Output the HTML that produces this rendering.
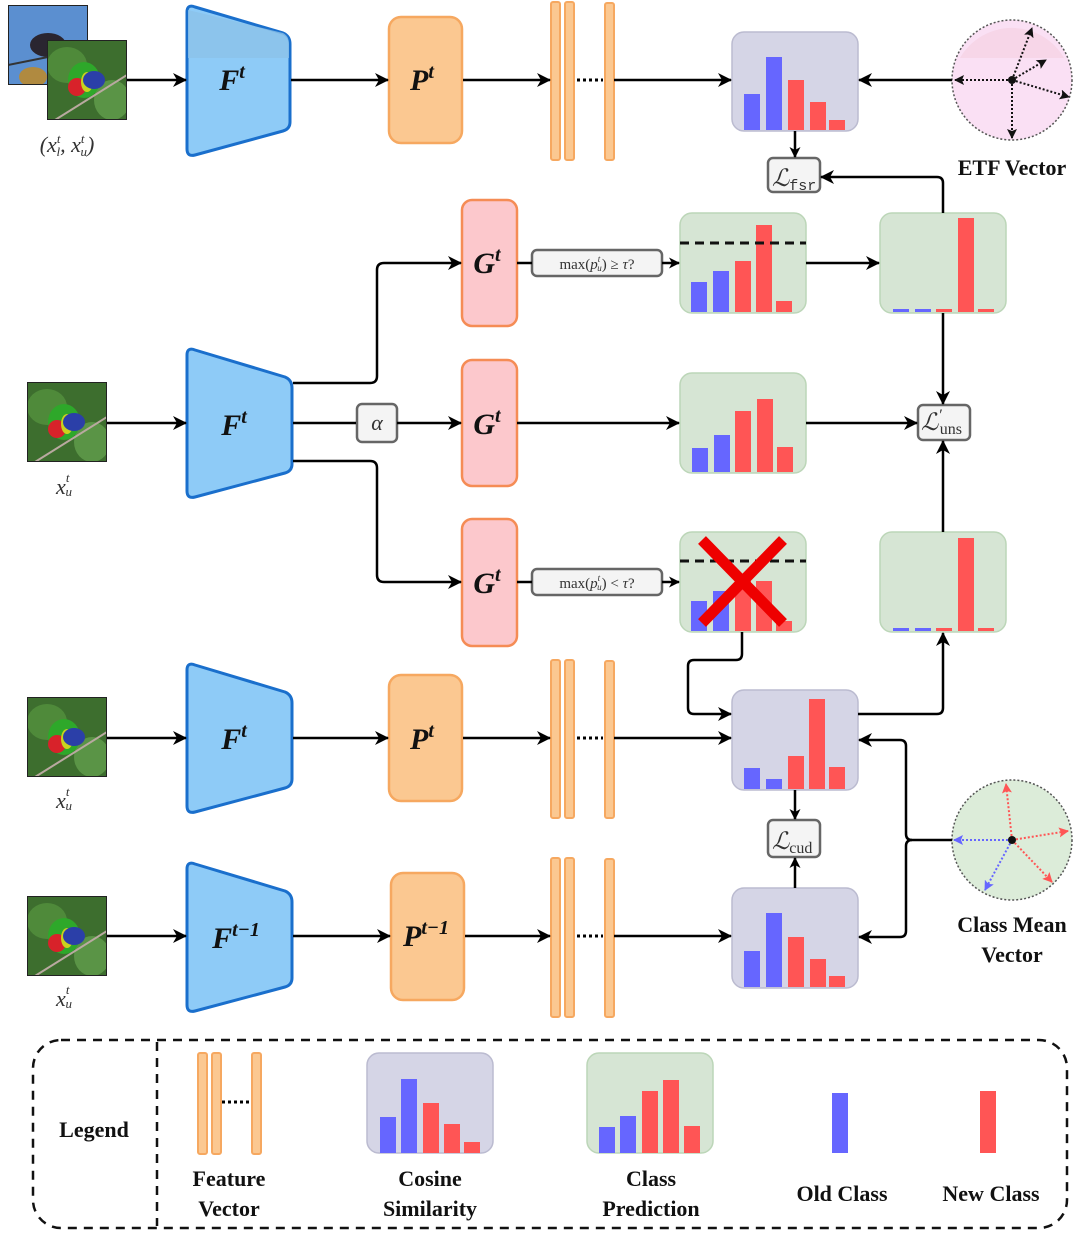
<!DOCTYPE html>
<html><head><meta charset="utf-8"><style>
html,body{margin:0;padding:0;background:#fff}
svg{display:block}
.m{font-family:"Liberation Serif",serif;font-style:italic;font-weight:bold;fill:#111}
.b{font-family:"Liberation Serif",serif;font-weight:bold;fill:#111}
.s{font-family:"Liberation Serif",serif;fill:#333}
</style></head><body>
<svg width="1080" height="1234" viewBox="0 0 1080 1234" xmlns="http://www.w3.org/2000/svg">
<defs>
<marker id="a" markerWidth="14" markerHeight="14" refX="13" refY="7" orient="auto" markerUnits="userSpaceOnUse" viewBox="0 0 14 14">
<path d="M0,0 L14,7 L0,14 L4,7 Z" fill="#000"/></marker>
<marker id="as" markerWidth="11" markerHeight="11" refX="10" refY="5.5" orient="auto" markerUnits="userSpaceOnUse" viewBox="0 0 11 11">
<path d="M0,0 L11,5.5 L0,11 L3,5.5 Z" fill="#000"/></marker>
<marker id="ar" markerWidth="10" markerHeight="10" refX="9" refY="5" orient="auto" markerUnits="userSpaceOnUse" viewBox="0 0 10 10">
<path d="M0,0 L10,5 L0,10 L2,5 Z" fill="#f55"/></marker>
<marker id="ab" markerWidth="10" markerHeight="10" refX="9" refY="5" orient="auto" markerUnits="userSpaceOnUse" viewBox="0 0 10 10">
<path d="M0,0 L10,5 L0,10 L2,5 Z" fill="#66f"/></marker>
<marker id="ak" markerWidth="10" markerHeight="10" refX="9" refY="5" orient="auto" markerUnits="userSpaceOnUse" viewBox="0 0 10 10">
<path d="M0,0 L10,5 L0,10 L2,5 Z" fill="#111"/></marker>
<symbol id="bird" viewBox="0 0 80 80">
<rect width="80" height="80" fill="#3d6e2e"/>
<ellipse cx="20" cy="25" rx="20" ry="18" fill="#4f8a3a"/>
<ellipse cx="65" cy="60" rx="18" ry="20" fill="#5a9446"/>
<line x1="8" y1="80" x2="80" y2="35" stroke="#b9a9a0" stroke-width="2"/>
<ellipse cx="37" cy="40" rx="16" ry="18" fill="#2ea82a"/>
<ellipse cx="30" cy="47" rx="9" ry="9" fill="#d8222a"/>
<ellipse cx="40" cy="42" rx="6" ry="10" fill="#c9d21e"/>
<ellipse cx="47" cy="40" rx="11" ry="9" fill="#2b3fa8"/>
<rect width="80" height="80" fill="none" stroke="#222" stroke-width="2"/>
</symbol>
<symbol id="bird2" viewBox="0 0 80 80">
<rect width="80" height="80" fill="#5b8fd0"/>
<ellipse cx="40" cy="40" rx="18" ry="12" fill="#2a2530"/>
<ellipse cx="25" cy="72" rx="14" ry="10" fill="#b08a40"/>
<line x1="0" y1="60" x2="50" y2="50" stroke="#333" stroke-width="2"/>
<rect width="80" height="80" fill="none" stroke="#222" stroke-width="2"/>
</symbol>
</defs>

<use href="#bird2" x="8" y="5" width="80" height="80"/>
<use href="#bird" x="47" y="40" width="80" height="80"/>
<text x="67" y="152" class="s" font-size="22" font-style="italic" text-anchor="middle">(x<tspan font-size="13" dy="-9">t</tspan><tspan font-size="13" dy="13" dx="-4">l</tspan><tspan dy="-4">, x</tspan><tspan font-size="13" dy="-9">t</tspan><tspan font-size="13" dy="13" dx="-4">u</tspan><tspan dy="-4">)</tspan></text>
<use href="#bird" x="27" y="382" width="80" height="80"/>
<use href="#bird" x="27" y="697" width="80" height="80"/>
<use href="#bird" x="27" y="896" width="80" height="80"/>
<g class="s" font-size="22" font-style="italic" text-anchor="middle">
<text x="64" y="494">x<tspan font-size="13" dy="-12">t</tspan><tspan font-size="13" dy="14" dx="-4">u</tspan></text>
<text x="64" y="808">x<tspan font-size="13" dy="-12">t</tspan><tspan font-size="13" dy="14" dx="-4">u</tspan></text>
<text x="64" y="1006">x<tspan font-size="13" dy="-12">t</tspan><tspan font-size="13" dy="14" dx="-4">u</tspan></text>
</g>

<g fill="#8ecbf7" stroke="#1a6fcc" stroke-width="3" stroke-linejoin="round">
<path d="M187,12 Q187,4 195,7 L283,33 Q290,36 290,44 L290,122 Q290,129 283,131 L195,155 Q187,157 187,149 Z"/>
<path d="M187,355 Q187,347 195,350 L285,377 Q292,380 292,388 L292,464 Q292,471 285,473 L195,497 Q187,499 187,491 Z"/>
<path d="M187,670 Q187,662 195,665 L285,692 Q292,695 292,703 L292,779 Q292,786 285,788 L195,812 Q187,814 187,806 Z"/>
<path d="M187,869 Q187,861 195,864 L285,891 Q292,894 292,902 L292,978 Q292,985 285,987 L195,1011 Q187,1013 187,1005 Z"/>
</g>
<path d="M188,10 L283,33 Q289,36 289,44 L289,58 L188,58 Z" fill="#8cc2e8" opacity="0.8"/>
<g class="m" font-size="30" text-anchor="middle">
<text x="232" y="90">F<tspan font-size="20" dy="-12">t</tspan></text>
<text x="234" y="435">F<tspan font-size="20" dy="-12">t</tspan></text>
<text x="234" y="749">F<tspan font-size="20" dy="-12">t</tspan></text>
<text x="236" y="948">F<tspan font-size="20" dy="-12">t−1</tspan></text>
</g>

<g fill="#fbc891" stroke="#f6a860" stroke-width="2.5">
<rect x="389" y="17" width="73" height="126" rx="12"/>
<rect x="389" y="675" width="73" height="126" rx="12"/>
<rect x="391" y="873" width="73" height="127" rx="12"/>
</g>
<g class="m" font-size="30" text-anchor="middle">
<text x="422" y="90">P<tspan font-size="20" dy="-12">t</tspan></text>
<text x="422" y="749">P<tspan font-size="20" dy="-12">t</tspan></text>
<text x="426" y="946">P<tspan font-size="20" dy="-12">t−1</tspan></text>
</g>

<g fill="#fcc8cc" stroke="#f58c55" stroke-width="2.5">
<rect x="462" y="200" width="55" height="126" rx="10"/>
<rect x="462" y="360" width="55" height="126" rx="10"/>
<rect x="462" y="519" width="55" height="127" rx="10"/>
</g>
<g class="m" font-size="30" text-anchor="middle">
<text x="487" y="273">G<tspan font-size="20" dy="-12">t</tspan></text>
<text x="487" y="434">G<tspan font-size="20" dy="-12">t</tspan></text>
<text x="487" y="593">G<tspan font-size="20" dy="-12">t</tspan></text>
</g>

<g fill="#fbc891" stroke="#f6a860" stroke-width="2">
<rect x="551" y="2" width="9" height="158" rx="2"/><rect x="565" y="2" width="9" height="158" rx="2"/><rect x="605" y="3" width="9" height="157" rx="2"/>
<rect x="551" y="660" width="9" height="158" rx="2"/><rect x="565" y="660" width="9" height="158" rx="2"/><rect x="605" y="661" width="9" height="157" rx="2"/>
<rect x="551" y="858" width="9" height="159" rx="2"/><rect x="565" y="858" width="9" height="159" rx="2"/><rect x="605" y="859" width="9" height="158" rx="2"/>
<rect x="198" y="1053" width="9" height="101" rx="2"/><rect x="212" y="1053" width="9" height="101" rx="2"/><rect x="252" y="1053" width="9" height="101" rx="2"/>
</g>
<g stroke="#000" stroke-width="3" stroke-dasharray="3,3">
<line x1="577" y1="80" x2="603" y2="80"/><line x1="577" y1="738" x2="603" y2="738"/><line x1="577" y1="936" x2="603" y2="936"/><line x1="222" y1="1102" x2="250" y2="1102"/>
</g>

<g stroke-width="1.5">
<rect x="732" y="32" width="126" height="99" rx="12" fill="#d5d5e6" stroke="#bbbbd0"/>
<rect x="732" y="690" width="126" height="100" rx="12" fill="#d5d5e6" stroke="#bbbbd0"/>
<rect x="732" y="888" width="126" height="100" rx="12" fill="#d5d5e6" stroke="#bbbbd0"/>
<rect x="367" y="1053" width="126" height="100" rx="12" fill="#d5d5e6" stroke="#bbbbd0"/>
<rect x="680" y="213" width="126" height="100" rx="12" fill="#d6e5d4" stroke="#bcd6b8"/>
<rect x="880" y="213" width="126" height="100" rx="12" fill="#d6e5d4" stroke="#bcd6b8"/>
<rect x="680" y="373" width="126" height="100" rx="12" fill="#d6e5d4" stroke="#bcd6b8"/>
<rect x="680" y="532" width="126" height="100" rx="12" fill="#d6e5d4" stroke="#bcd6b8"/>
<rect x="880" y="532" width="126" height="100" rx="12" fill="#d6e5d4" stroke="#bcd6b8"/>
<rect x="587" y="1053" width="126" height="100" rx="12" fill="#d6e5d4" stroke="#bcd6b8"/>
</g>
<g>
<rect x="744" y="94" width="16" height="36" fill="#66f"/><rect x="766" y="57" width="16" height="73" fill="#66f"/><rect x="788" y="80" width="16" height="50" fill="#f55"/><rect x="810" y="102" width="16" height="28" fill="#f55"/><rect x="829" y="120" width="16" height="10" fill="#f55"/>
<rect x="691" y="282" width="16" height="30" fill="#66f"/><rect x="713" y="271" width="16" height="41" fill="#66f"/><rect x="735" y="261" width="16" height="51" fill="#f55"/><rect x="756" y="225" width="16" height="87" fill="#f55"/><rect x="776" y="301" width="16" height="11" fill="#f55"/>
<rect x="893" y="309" width="16" height="3" fill="#66f"/><rect x="915" y="309" width="16" height="3" fill="#66f"/><rect x="936" y="309" width="16" height="3" fill="#f55"/><rect x="958" y="218" width="16" height="94" fill="#f55"/><rect x="978" y="309" width="16" height="3" fill="#f55"/>
<rect x="692" y="448" width="16" height="24" fill="#66f"/><rect x="714" y="435" width="16" height="37" fill="#66f"/><rect x="735" y="411" width="16" height="61" fill="#f55"/><rect x="757" y="399" width="16" height="73" fill="#f55"/><rect x="777" y="447" width="16" height="25" fill="#f55"/>
<rect x="691" y="601" width="16" height="30" fill="#66f"/><rect x="713" y="591" width="16" height="40" fill="#66f"/><rect x="735" y="581" width="16" height="50" fill="#f55"/><rect x="756" y="581" width="16" height="50" fill="#f55"/><rect x="776" y="621" width="16" height="10" fill="#f55"/>
<rect x="893" y="628" width="16" height="3" fill="#66f"/><rect x="915" y="628" width="16" height="3" fill="#66f"/><rect x="936" y="628" width="16" height="3" fill="#f55"/><rect x="958" y="538" width="16" height="93" fill="#f55"/><rect x="978" y="628" width="16" height="3" fill="#f55"/>
<rect x="744" y="768" width="16" height="21" fill="#66f"/><rect x="766" y="779" width="16" height="10" fill="#66f"/><rect x="788" y="756" width="16" height="33" fill="#f55"/><rect x="809" y="699" width="16" height="90" fill="#f55"/><rect x="829" y="767" width="16" height="22" fill="#f55"/>
<rect x="744" y="951" width="16" height="36" fill="#66f"/><rect x="766" y="913" width="16" height="74" fill="#66f"/><rect x="788" y="937" width="16" height="50" fill="#f55"/><rect x="810" y="959" width="16" height="28" fill="#f55"/><rect x="829" y="976" width="16" height="11" fill="#f55"/>
<rect x="380" y="1117" width="16" height="36" fill="#66f"/><rect x="401" y="1079" width="16" height="74" fill="#66f"/><rect x="423" y="1103" width="16" height="50" fill="#f55"/><rect x="444" y="1124" width="16" height="29" fill="#f55"/><rect x="464" y="1142" width="16" height="11" fill="#f55"/>
<rect x="599" y="1127" width="16" height="26" fill="#66f"/><rect x="620" y="1116" width="16" height="37" fill="#66f"/><rect x="642" y="1091" width="16" height="62" fill="#f55"/><rect x="663" y="1080" width="16" height="73" fill="#f55"/><rect x="684" y="1126" width="16" height="27" fill="#f55"/>
<rect x="832" y="1093" width="16" height="60" fill="#66f"/>
<rect x="980" y="1091" width="16" height="62" fill="#f55"/>
</g>
<g stroke="#111" stroke-width="3" stroke-dasharray="9,6">
<line x1="680" y1="243" x2="806" y2="243"/><line x1="680" y1="561" x2="806" y2="561"/>
</g>
<g stroke="#ee0000" stroke-width="11">
<line x1="702" y1="540" x2="783" y2="623"/><line x1="783" y1="540" x2="702" y2="623"/>
</g>

<circle cx="1012" cy="80" r="60" fill="#fae0f4" stroke="#555" stroke-width="1.5" stroke-dasharray="2,2"/>
<path d="M960,58 A60,60 0 0 1 1064,58 Z" fill="#f5d2e3" opacity="0.7"/>
<g stroke="#111" stroke-width="2" stroke-dasharray="2,2" fill="none">
<line x1="1012" y1="80" x2="1032" y2="28" marker-end="url(#ak)"/>
<line x1="1012" y1="80" x2="1046" y2="60" marker-end="url(#ak)"/>
<line x1="1012" y1="80" x2="955" y2="80" marker-end="url(#ak)"/>
<line x1="1012" y1="80" x2="1069" y2="97" marker-end="url(#ak)"/>
<line x1="1012" y1="80" x2="1012" y2="138" marker-end="url(#ak)"/>
</g>
<circle cx="1012" cy="80" r="4" fill="#111"/>
<circle cx="1012" cy="840" r="60" fill="#dcecd9" stroke="#555" stroke-width="1.5" stroke-dasharray="2,2"/>
<g stroke-width="2" stroke-dasharray="2,2" fill="none">
<line x1="1012" y1="840" x2="1006" y2="784" stroke="#f55" marker-end="url(#ar)"/>
<line x1="1012" y1="840" x2="1068" y2="831" stroke="#f55" marker-end="url(#ar)"/>
<line x1="1012" y1="840" x2="1052" y2="882" stroke="#f55" marker-end="url(#ar)"/>
<line x1="1012" y1="840" x2="954" y2="840" stroke="#66f" marker-end="url(#ab)"/>
<line x1="1012" y1="840" x2="985" y2="890" stroke="#66f" marker-end="url(#ab)"/>
</g>
<circle cx="1012" cy="840" r="4" fill="#111"/>
<text x="1012" y="175" class="b" font-size="22" text-anchor="middle">ETF Vector</text>
<text x="1012" y="932" class="b" font-size="22" text-anchor="middle">Class Mean</text>
<text x="1012" y="962" class="b" font-size="22" text-anchor="middle">Vector</text>

<g fill="#f4f4f4" stroke="#666" stroke-width="2.5">
<rect x="768" y="158" width="52" height="34" rx="5"/>
<rect x="768" y="820" width="52" height="37" rx="5"/>
<rect x="918" y="405" width="52" height="35" rx="5"/>
<rect x="357" y="404" width="40" height="38" rx="5"/>
<rect x="532" y="250" width="130" height="26" rx="5"/>
<rect x="532" y="569" width="130" height="26" rx="5"/>
</g>
<g class="s" font-size="24" font-style="italic" fill="#222">
<text x="772" y="186">ℒ<tspan font-family="Liberation Mono" font-style="normal" font-size="15" dy="4">fsr</tspan></text>
<text x="772" y="849">ℒ<tspan font-family="Liberation Serif" font-style="normal" font-size="16" dy="4">cud</tspan></text>
<text x="921" y="430">ℒ<tspan font-size="16" dy="-10">′</tspan><tspan font-style="normal" font-size="16" dy="14" dx="-2">uns</tspan></text>
<text x="377" y="430" text-anchor="middle" font-size="22">α</text>
</g>
<g class="s" font-size="15" text-anchor="middle" fill="#333">
<text x="597" y="269">max(<tspan font-style="italic">p</tspan><tspan font-size="9" dy="-7" font-style="italic">t</tspan><tspan font-size="9" dy="9" dx="-3" font-style="italic">u</tspan><tspan dy="-2">) ≥ </tspan><tspan font-style="italic">τ</tspan>?</text>
<text x="597" y="588">max(<tspan font-style="italic">p</tspan><tspan font-size="9" dy="-7" font-style="italic">t</tspan><tspan font-size="9" dy="9" dx="-3" font-style="italic">u</tspan><tspan dy="-2">) &lt; </tspan><tspan font-style="italic">τ</tspan>?</text>
</g>

<g stroke="#000" stroke-width="2.5" fill="none">
<line x1="127" y1="80" x2="186" y2="80" marker-end="url(#a)"/>
<line x1="291" y1="80" x2="388" y2="80" marker-end="url(#a)"/>
<line x1="463" y1="80" x2="550" y2="80" marker-end="url(#a)"/>
<line x1="614" y1="80" x2="731" y2="80" marker-end="url(#a)"/>
<line x1="952" y1="80" x2="859" y2="80" marker-end="url(#a)"/>
<line x1="795" y1="131" x2="795" y2="157" marker-end="url(#as)"/>
<path d="M943,213 L943,183 Q943,177 937,177 L821,177" marker-end="url(#a)"/>
<line x1="107" y1="423" x2="186" y2="423" marker-end="url(#a)"/>
<path d="M293,383 L370,383 Q377,383 377,376 L377,270 Q377,263 384,263 L461,263" marker-end="url(#a)"/>
<path d="M293,461 L370,461 Q377,461 377,468 L377,575 Q377,582 384,582 L461,582" marker-end="url(#a)"/>
<line x1="293" y1="423" x2="356" y2="423"/>
<line x1="397" y1="423" x2="461" y2="423" marker-end="url(#a)"/>
<line x1="517" y1="263" x2="532" y2="263"/>
<line x1="662" y1="263" x2="679" y2="263" marker-end="url(#as)"/>
<line x1="517" y1="582" x2="532" y2="582"/>
<line x1="662" y1="582" x2="679" y2="582" marker-end="url(#as)"/>
<line x1="517" y1="423" x2="679" y2="423" marker-end="url(#a)"/>
<line x1="806" y1="263" x2="879" y2="263" marker-end="url(#a)"/>
<line x1="806" y1="423" x2="917" y2="423" marker-end="url(#a)"/>
<line x1="943" y1="313" x2="943" y2="404" marker-end="url(#a)"/>
<line x1="943" y1="532" x2="943" y2="441" marker-end="url(#a)"/>
<path d="M742,632 L742,654 Q742,660 736,660 L694,660 Q688,660 688,666 L688,708 Q688,714 694,714 L731,714" marker-end="url(#a)"/>
<path d="M858,714 L937,714 Q943,714 943,708 L943,633" marker-end="url(#a)"/>
<line x1="107" y1="738" x2="186" y2="738" marker-end="url(#a)"/>
<line x1="293" y1="738" x2="388" y2="738" marker-end="url(#a)"/>
<line x1="463" y1="738" x2="550" y2="738" marker-end="url(#a)"/>
<line x1="614" y1="738" x2="731" y2="738" marker-end="url(#a)"/>
<line x1="107" y1="936" x2="186" y2="936" marker-end="url(#a)"/>
<line x1="293" y1="936" x2="390" y2="936" marker-end="url(#a)"/>
<line x1="465" y1="936" x2="550" y2="936" marker-end="url(#a)"/>
<line x1="614" y1="936" x2="731" y2="936" marker-end="url(#a)"/>
<line x1="795" y1="790" x2="795" y2="819" marker-end="url(#as)"/>
<line x1="795" y1="888" x2="795" y2="858" marker-end="url(#as)"/>
<path d="M952,840 L912,840 Q906,840 906,834 L906,746 Q906,740 900,740 L859,740" marker-end="url(#a)"/>
<path d="M912,840 Q906,840 906,846 L906,931 Q906,937 900,937 L859,937" marker-end="url(#a)"/>
</g>

<rect x="33" y="1040" width="1034" height="188" rx="28" fill="none" stroke="#111" stroke-width="2.5" stroke-dasharray="9,7"/>
<line x1="157" y1="1042" x2="157" y2="1226" stroke="#111" stroke-width="2.5" stroke-dasharray="9,7"/>
<g class="b" font-size="22" text-anchor="middle">
<text x="94" y="1137">Legend</text>
<text x="229" y="1186">Feature</text><text x="229" y="1216">Vector</text>
<text x="430" y="1186">Cosine</text><text x="430" y="1216">Similarity</text>
<text x="651" y="1186">Class</text><text x="651" y="1216">Prediction</text>
<text x="842" y="1201">Old Class</text>
<text x="991" y="1201">New Class</text>
</g>
</svg>
</body></html>
